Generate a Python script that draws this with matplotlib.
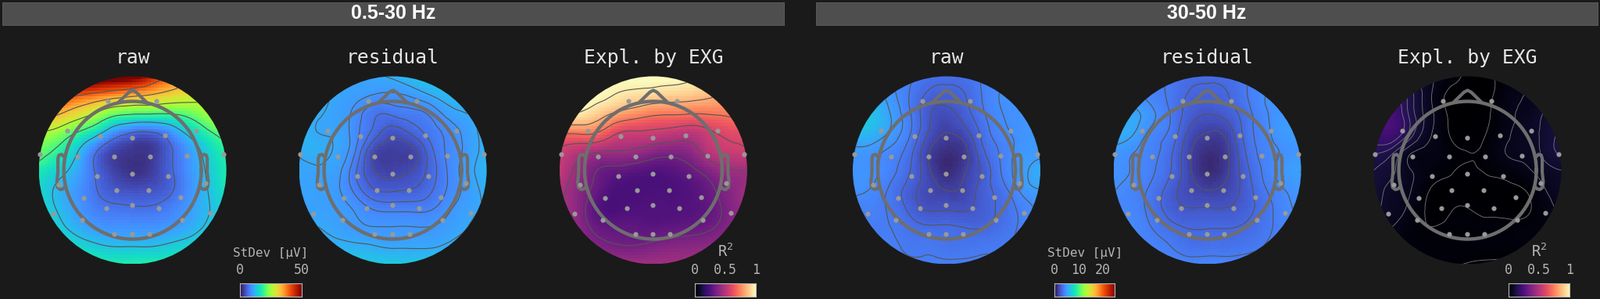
#importing necessary libraries
import matplotlib
matplotlib.use('Agg')
import matplotlib.pyplot as plt
import matplotlib.tri as mtri
import numpy as np
from matplotlib.patches import Circle

W, H = 2047, 382
BG = '#1a1a1a'
plt.rcParams['mathtext.default'] = 'regular'

bands = ['0.5-30 Hz', '30-50 Hz']
titles = ['raw', 'residual', 'Expl. by EXG']

#sensor positions (head radius = 1)
sensor_x = [-0.357, 0.343, -0.954, -0.471, -0.007, 0.466, 0.929, -1.343, -0.806, -0.264, 0.249, 0.786, 1.323,
            -1.072, -0.515, -0.007, 0.515, 1.057, -0.234, 0.229, -0.707, -0.007, 0.697, -0.382, 0.377,
            -1.151, 1.126, -0.737, 0.717, -0.264, -0.007, 0.239]
sensor_y = [1.009, 1.009, 0.570, 0.494, 0.472, 0.502, 0.578, 0.237, 0.199, 0.195, 0.199, 0.206, 0.229,
            -0.206, -0.089, -0.055, -0.081, -0.188, -0.294, -0.294, -0.400, -0.502, -0.392, -0.551, -0.547,
            -0.627, -0.619, -0.725, -0.725, -0.930, -0.926, -0.926]

#maps: rows top to bottom, columns left to right, fraction of the colour scale
raw_low = [[1.0, 1.0, 1.0, .98, .95, .92, .80, .70, .62, .56, .50],
           [.80, .77, .72, .68, .64, .61, .585, .55, .52, .49, .46],
           [.65, .60, .53, .46, .38, .355, .35, .35, .38, .44, .49],
           [.47, .43, .35, .27, .165, .115, .11, .165, .25, .33, .40],
           [.39, .33, .24, .125, .06, .045, .05, .105, .18, .26, .33],
           [.31, .26, .20, .112, .06, .04, .055, .105, .17, .24, .31],
           [.27, .22, .175, .12, .085, .075, .08, .105, .165, .23, .30],
           [.28, .225, .18, .14, .125, .12, .12, .14, .18, .225, .27],
           [.30, .25, .205, .175, .165, .165, .165, .175, .20, .24, .28],
           [.31, .29, .265, .24, .225, .225, .225, .24, .26, .28, .30],
           [.32, .32, .32, .32, .31, .31, .31, .31, .32, .32, .32]]
res_low = [[.20, .20, .19, .185, .19, .20, .22, .24, .25, .26, .26],
           [.22, .21, .19, .18, .168, .165, .175, .195, .215, .23, .24],
           [.22, .20, .185, .16, .125, .125, .135, .15, .18, .195, .22],
           [.22, .195, .19, .155, .11, .08, .10, .13, .155, .18, .21],
           [.20, .205, .19, .145, .068, .055, .06, .11, .152, .178, .21],
           [.19, .19, .18, .125, .07, .06, .07, .105, .15, .185, .21],
           [.19, .185, .175, .135, .095, .09, .095, .115, .15, .18, .205],
           [.19, .185, .18, .165, .14, .135, .135, .14, .165, .185, .20],
           [.20, .195, .185, .175, .17, .17, .17, .17, .18, .195, .21],
           [.22, .21, .205, .20, .195, .19, .19, .19, .20, .21, .22],
           [.24, .24, .24, .24, .24, .235, .235, .24, .24, .24, .24]]
expl_low = [[1.0, 1.0, 1.0, 1.0, 1.0, 1.0, 1.0, .98, .95, .92, .90],
            [1.0, 1.0, .99, .955, .93, .91, .895, .88, .85, .82, .80],
            [.98, .95, .89, .81, .76, .72, .71, .70, .705, .72, .74],
            [.72, .72, .70, .59, .56, .55, .53, .51, .56, .60, .62],
            [.56, .50, .46, .445, .43, .39, .37, .40, .50, .54, .56],
            [.52, .42, .33, .30, .28, .26, .27, .31, .38, .44, .45],
            [.48, .39, .30, .24, .235, .235, .24, .26, .31, .38, .44],
            [.46, .38, .26, .23, .245, .25, .25, .26, .29, .36, .44],
            [.46, .39, .30, .28, .28, .27, .28, .29, .315, .37, .43],
            [.45, .41, .36, .335, .33, .35, .37, .38, .39, .41, .43],
            [.44, .44, .44, .44, .44, .44, .44, .44, .44, .44, .44]]
raw_high = [[.18, .17, .16, .15, .13, .125, .13, .15, .165, .175, .18],
            [.23, .22, .185, .145, .112, .105, .117, .15, .175, .18, .185],
            [.27, .25, .20, .15, .097, .08, .105, .143, .172, .18, .19],
            [.24, .23, .195, .15, .09, .062, .08, .13, .165, .18, .195],
            [.19, .185, .165, .13, .067, .04, .055, .115, .152, .185, .19],
            [.182, .178, .155, .12, .07, .035, .06, .10, .15, .19, .215],
            [.18, .17, .14, .105, .075, .06, .07, .105, .135, .18, .20],
            [.158, .155, .14, .11, .085, .085, .085, .105, .125, .155, .18],
            [.15, .15, .145, .13, .12, .12, .115, .115, .13, .15, .17],
            [.15, .15, .15, .14, .14, .135, .135, .138, .143, .15, .155],
            [.155, .155, .155, .15, .15, .15, .15, .15, .15, .155, .155]]
res_high = [[.165, .16, .155, .14, .125, .12, .125, .14, .155, .17, .17],
            [.19, .185, .16, .14, .115, .11, .115, .14, .17, .18, .18],
            [.21, .21, .18, .145, .105, .09, .10, .13, .165, .185, .185],
            [.22, .205, .165, .14, .085, .062, .07, .125, .16, .19, .195],
            [.19, .175, .155, .125, .07, .04, .055, .115, .155, .175, .19],
            [.18, .17, .15, .12, .07, .035, .055, .105, .15, .185, .20],
            [.175, .16, .14, .105, .075, .06, .07, .10, .14, .17, .19],
            [.165, .16, .135, .105, .09, .09, .09, .105, .13, .16, .18],
            [.17, .165, .145, .125, .115, .115, .115, .12, .135, .155, .17],
            [.165, .16, .155, .145, .13, .13, .13, .135, .145, .155, .165],
            [.16, .16, .16, .16, .16, .16, .16, .16, .16, .16, .16]]
expl_high = [[.10, .10, .08, .055, .03, .006, .006, .025, .05, .065, .07],
             [.19, .19, .12, .055, .005, .003, .003, .035, .05, .06, .07],
             [.25, .22, .125, .06, .008, .00, .006, .04, .055, .08, .10],
             [.20, .21, .125, .055, .012, .002, .012, .04, .065, .085, .12],
             [.15, .12, .055, .04, .02, .012, .02, .05, .06, .085, .12],
             [.11, .085, .05, .03, .016, .008, .015, .025, .04, .065, .08],
             [.10, .07, .05, .012, .004, .002, .004, .006, .012, .045, .07],
             [.09, .065, .04, .005, .008, .012, .006, .005, .005, .03, .06],
             [.07, .05, .025, .012, .016, .018, .018, .018, .02, .03, .05],
             [.05, .03, .022, .02, .02, .02, .02, .02, .025, .03, .04],
             [.025, .025, .022, .02, .015, .011, .009, .008, .008, .01, .012]]

maps = [raw_low, res_low, expl_low, raw_high, res_high, expl_high]
map_cmaps = ['turbo', 'turbo', 'magma', 'turbo', 'turbo', 'magma']
map_vmax = [0.9, 0.88, 1, 0.96, 0.96, 1]
map_levels = [[.115, .23, .35, .47, .59, .71],
              [.07, .095, .12, .145, .17, .195],
              [.33, .45, .575, .70, .83, .96],
              [.062, .09, .117, .145, .172, .20],
              [.062, .09, .117, .145, .172, .20],
              [.012, .05, .08, .11, .14, .17]]
line_colors = ['#555555', '#555555', '#555555', '#555555', '#555555', '#7a7a7a']
line_widths = [0.8, 0.8, 0.8, 0.8, 0.8, 0.6]

#colour bars: label, ticks, tick labels, scale maximum
cbar_labels = ['StDev [µV]', 'R$^2$', 'StDev [µV]', 'R$^2$']
cbar_ticks = [[0, 50], [0, 0.5, 1], [0, 10, 20], [0, 0.5, 1]]
cbar_ticklabels = [['0', '50'], ['0', '0.5', '1'], ['0', '10', '20'], ['0', '0.5', '1']]
cbar_max = [50, 1, 25, 1]
cbar_cmaps = ['turbo', 'magma', 'turbo', 'magma']
cbar_fontsize = [11.5, 13.5, 11.5, 13.5]

#layout in pixels of the reference
panel_cx = [169.6, 502.6, 835.9, 1211.0, 1544.6, 1877.6]
panel_cy = 217.5
panel_r = 120.0
head_r = 88.0
bar_x = [(3, 1003), (1044, 2044)]
cbar_x = [(307.3, 385.7), (888.7, 966.7), (1349.2, 1426.4), (1930.3, 2008.4)]
cbar_y = (362.3, 379.3)


def px_axes(x0, y0, x1, y1):
    #axes from pixel box, y counted from the top
    return fig.add_axes((x0 / W, 1 - y1 / H, (x1 - x0) / W, (y1 - y0) / H))


fig = plt.figure(figsize=(W / 100, H / 100), dpi=100, facecolor=BG)

#header bars
for (x0, x1), band in zip(bar_x, bands):
    ax = px_axes(x0, 3, x1, 32)
    ax.set_facecolor('#4e4e4e')
    ax.set_xticks([])
    ax.set_yticks([])
    for s in ax.spines.values():
        s.set_color('#5a5a5a')
        s.set_linewidth(0.7)
    ax.text(0.5, 0.5, band, transform=ax.transAxes, ha='center', va='center', color='white',
            fontsize=18, fontweight='bold', family='Liberation Sans')

#grid the map values sit on
grid = np.linspace(-1, 1, 11)
gx, gy = np.meshgrid(grid, grid[::-1])
triang = mtri.Triangulation(gx.ravel(), gy.ravel())

#head outline
theta = np.linspace(0, 2 * np.pi, 200)
nose_x = np.array([-.19, -.05, 0, .05, .19])
nose_y = np.array([1.0, 1.135, 1.16, 1.135, 1.0])
ear_x = np.array([.99, 1.03, 1.07, 1.085, 1.085, 1.10, 1.09, 1.05, 1.01, .98])
ear_y = np.array([.19, .23, .22, .17, -.03, -.17, -.25, -.28, -.27, -.24])

for i, cx in enumerate(panel_cx):
    ax = px_axes(cx - 1.2 * panel_r, panel_cy - 1.2 * panel_r, cx + 1.2 * panel_r, panel_cy + 1.2 * panel_r)
    ax.set_xlim(-1.2, 1.2)
    ax.set_ylim(-1.2, 1.2)
    ax.axis('off')
    z = np.array(maps[i])
    interp = mtri.CubicTriInterpolator(triang, z.ravel(), kind='min_E')
    #image is blocky in the reference, about 64 cells across
    xi, yi = np.meshgrid(np.linspace(-1, 1, 64), np.linspace(-1, 1, 64))
    im = ax.imshow(interp(xi, yi), extent=(-1, 1, -1, 1), origin='lower', cmap=map_cmaps[i], vmin=0, vmax=map_vmax[i],
                   interpolation='nearest', aspect='auto')
    clip = Circle((0, 0), 1, transform=ax.transData)
    im.set_clip_path(clip)
    xf, yf = np.meshgrid(np.linspace(-1, 1, 240), np.linspace(-1, 1, 240))
    cs = ax.contour(xf, yf, interp(xf, yf), levels=map_levels[i], colors=line_colors[i], linewidths=line_widths[i])
    cs.set_clip_path(clip)
    k = head_r / panel_r
    head_c = '#6e6e6e'
    ax.plot(k * np.cos(theta), k * np.sin(theta), color=head_c, lw=3.2, clip_on=False)
    ax.plot(nose_x * k, nose_y * k, color=head_c, lw=3, solid_joinstyle='round', clip_on=False)
    ax.plot(ear_x * k, ear_y * k, color=head_c, lw=3, solid_joinstyle='round', clip_on=False)
    ax.plot(-ear_x * k, ear_y * k, color=head_c, lw=3, solid_joinstyle='round', clip_on=False)
    ax.scatter(np.array(sensor_x) * k, np.array(sensor_y) * k, s=20, color='#999999', linewidths=0, zorder=5, clip_on=False)
    fig.text(cx / W, 1 - 81 / H, titles[i % 3], ha='center', va='baseline', color='#e6e6e6', fontsize=17.7,
             family='DejaVu Sans Mono')

#colour bars
ramp = np.linspace(0, 1, 256).reshape(1, -1)
for j, (x0, x1) in enumerate(cbar_x):
    ax = px_axes(x0, cbar_y[0], x1, cbar_y[1])
    ax.imshow(ramp, extent=(0, cbar_max[j], 0, 1), aspect='auto', cmap=cbar_cmaps[j], vmin=0, vmax=1)
    ax.set_yticks([])
    ax.xaxis.tick_top()
    ax.set_xticks(cbar_ticks[j])
    ax.set_xticklabels(cbar_ticklabels[j], family='DejaVu Sans Mono', color='#b4b4b4', fontsize=12)
    ax.tick_params(axis='x', length=0, pad=6)
    for s in ax.spines.values():
        s.set_color('#b8b8b8')
        s.set_linewidth(0.8)
    fig.text((x0 + x1) / 2 / W, 1 - 328 / H, cbar_labels[j], ha='center', va='baseline', color='#b4b4b4',
             fontsize=cbar_fontsize[j], family='DejaVu Sans Mono')

fig.savefig('out.png', dpi=100, facecolor=BG)
